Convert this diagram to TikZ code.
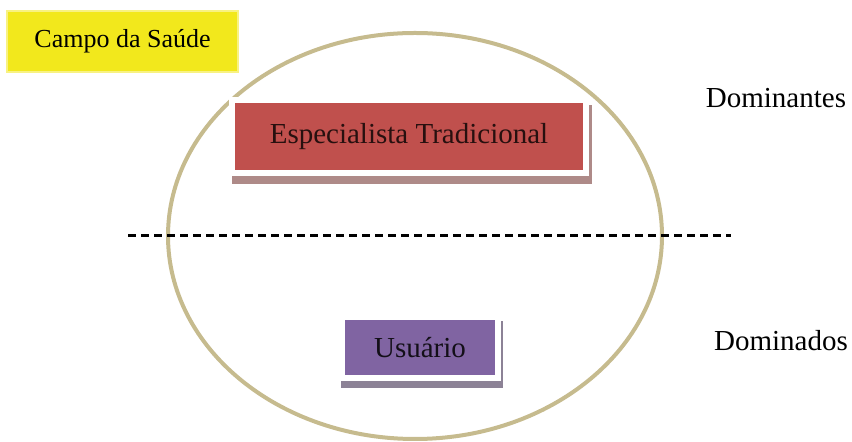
\documentclass[tikz,border=0pt]{standalone}
\usepackage{fontspec}
\setmainfont{Liberation Serif}
\usetikzlibrary{shapes.geometric,shadows}
\definecolor{campoamarelo}{HTML}{F2E81C}
\definecolor{campolinha}{HTML}{C6BB8E}
\definecolor{vermelho}{HTML}{C0504D}
\definecolor{vermelhosombra}{HTML}{AE8A88}
\definecolor{roxo}{HTML}{8064A2}
\definecolor{roxosombra}{HTML}{8C8296}
\begin{document}
\begin{tikzpicture}
	[x=0.5pt,y=-0.5pt,
	every node/.style={inner sep=0pt,font=\fontsize{14.5}{17}\selectfont},
	caixa/.style={rectangle,draw=white,line width=3pt},
	divisa/.style={line width=1.5pt,dash pattern=on 4pt off 2.5pt}
	]
	\useasboundingbox (0,0) rectangle (852,442);
	\node[ellipse,draw=campolinha,line width=2pt,minimum width=247pt,minimum height=203pt] (campo) at (415,236) {};
	\coordinate (divisaA) at (128,236);
	\coordinate (divisaB) at (731,236);
	\draw[divisa] (divisaA) -- (divisaB);
	\node[rectangle,fill=campoamarelo,draw=campoamarelo!55!white,line width=1pt,
		minimum width=115.5pt,minimum height=30.5pt,
		font=\fontsize{13}{15}\selectfont] (saude) at (122.5,41.5) {Campo da Saúde};
	\node[caixa,fill=vermelho,text=black!80!vermelho,minimum width=177pt,minimum height=36.5pt,
		drop shadow={shadow xshift=1.5pt,shadow yshift=-4pt,fill=vermelhosombra,draw=vermelhosombra,opacity=1}]
		(especialista) at (409,136.5) {Especialista Tradicional};
	\node[caixa,fill=roxo,text=black!85!roxo,minimum width=78pt,minimum height=30.5pt,
		drop shadow={shadow xshift=1pt,shadow yshift=-3.5pt,fill=roxosombra,draw=roxosombra,opacity=1}]
		(usuario) at (420,347.5) {Usuário};
	\node (dominantes) at (776,98) {Dominantes};
	\node (dominados) at (781,341) {Dominados};
\end{tikzpicture}
\end{document}
